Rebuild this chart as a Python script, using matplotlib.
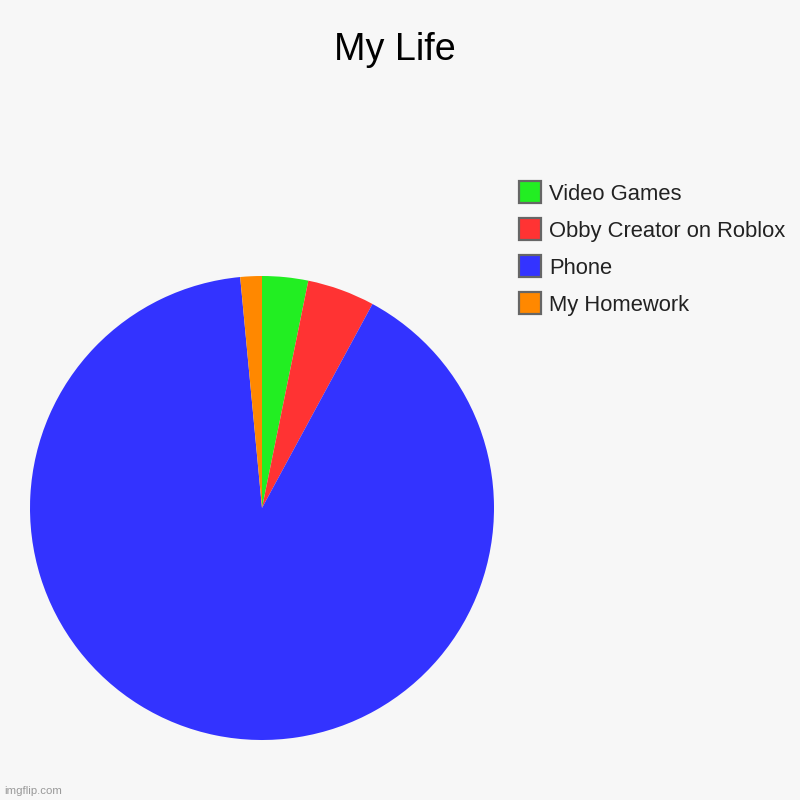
import matplotlib
matplotlib.use("Agg")
import matplotlib.pyplot as plt
from matplotlib.patches import Rectangle

categories = ["Video Games", "Obby Creator on Roblox", "Phone", "My Homework"]
values = [3.2, 4.7, 90.6, 1.5]
colors = ["#22ee22", "#ff3333", "#3333ff", "#ff8800"]

plt.rcParams['font.family'] = ['Liberation Sans', 'DejaVu Sans']
bg = "#f7f7f7"
fig = plt.figure(figsize=(8, 8), dpi=100, facecolor=bg)

cx, cy, r = 262 / 800, 1 - 508 / 800, 232 / 800
ax = fig.add_axes([cx - r, cy - r, 2 * r, 2 * r])
ax.set_facecolor(bg)
ax.pie(values, colors=colors, startangle=90, counterclock=False,
       radius=1.0, wedgeprops=dict(linewidth=0))
ax.set_xlim(-1, 1)
ax.set_ylim(-1, 1)
ax.set_aspect('equal')
ax.axis('off')

fig.text(395 / 800, 1 - 50 / 800, "My Life", ha='center', va='center', fontsize=27.2, color='#000000')

# legend
for i, (lab, col) in enumerate(zip(categories, colors)):
    yc = 192 + 37 * i
    fig.patches.append(Rectangle((519 / 800, 1 - (yc + 11) / 800), 22 / 800, 22 / 800,
                                 transform=fig.transFigure, facecolor=col,
                                 edgecolor='#666666', linewidth=1.6))
    fig.text(549 / 800, 1 - (yc + 2.5) / 800, lab, ha='left', va='center', fontsize=15.8, color='#222222')

fig.text(4 / 800, 1 - 791 / 800, "imgflip.com", ha='left', va='center', fontsize=8.2, color='#999999')

fig.savefig("out.png", dpi=100, facecolor=bg)
